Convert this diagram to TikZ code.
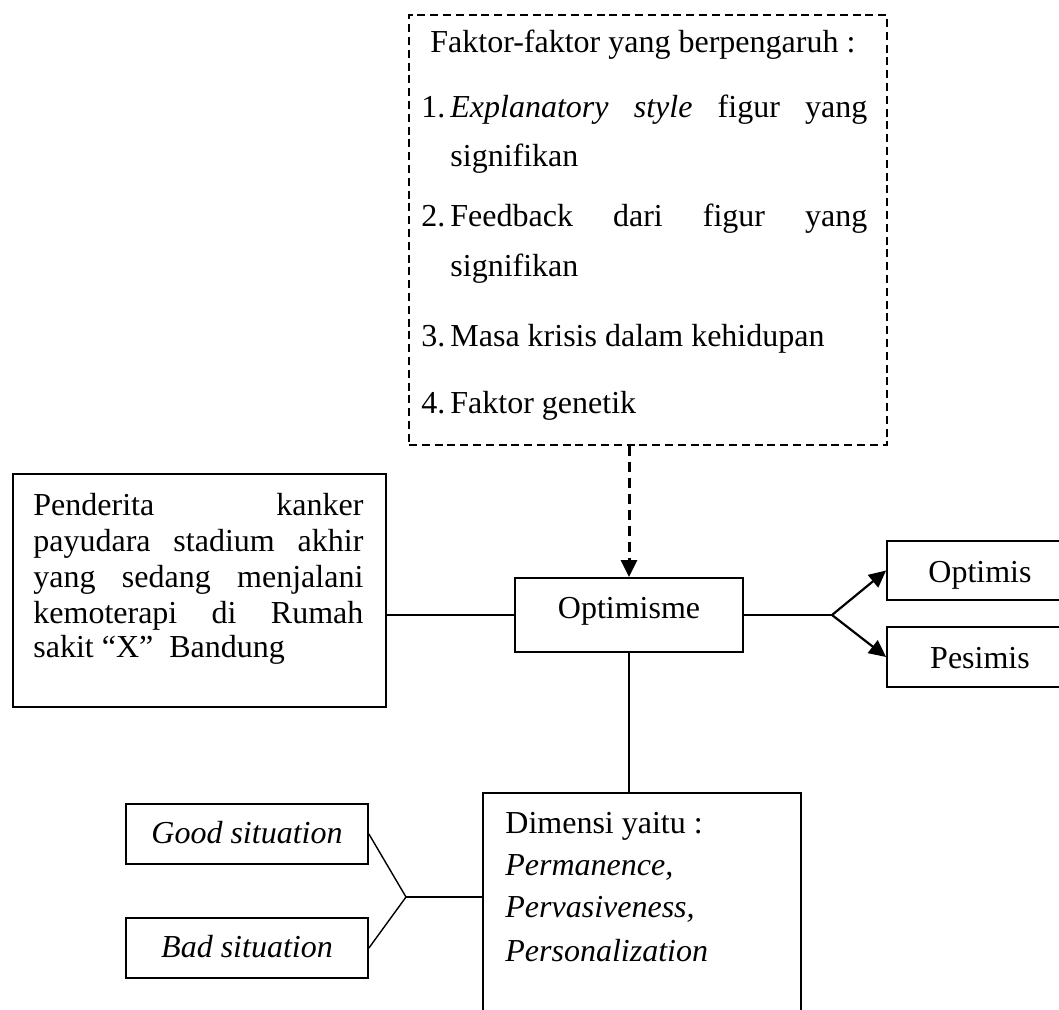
\documentclass[tikz,border=0pt]{standalone}
\usepackage{fontspec}
\setmainfont{Liberation Serif}
\usetikzlibrary{arrows.meta}
\begin{document}
\begin{tikzpicture}[x=0.5pt,y=-0.5pt,
  box/.style={draw, line width=0.9pt, inner sep=0pt},
  dbox/.style={draw, line width=0.75pt, dash pattern=on 4pt off 2.4pt, inner sep=0pt},
  txt/.style={inner sep=0pt, font=\fontsize{16}{18}\selectfont, anchor=base west},
  ctxt/.style={txt, anchor=base},
  link/.style={line width=0.7pt},
  arr/.style={line width=1.1pt, -{Triangle[length=8.5pt,width=8pt]}},
  darr/.style={line width=1.5pt, dash pattern=on 5pt off 3pt, -{Triangle[length=8.5pt,width=8pt]}}]
\useasboundingbox (0,0) rectangle (1059,1010);
\clip (0,0) rectangle (1059,1010);

% boxes
\node[dbox, minimum width=239pt, minimum height=215pt] (faktor) at (648,230) {};
\node[box, minimum width=186.5pt, minimum height=116.5pt] (pend) at (199.5,590.5) {};
\node[box, minimum width=114pt, minimum height=37pt] (optm) at (629,615) {};
\node[box, minimum width=94pt, minimum height=29.5pt] (optis) at (981,570.5) {};
\node[box, minimum width=94pt, minimum height=30pt] (pesis) at (981,657) {};
\node[box, minimum width=121pt, minimum height=30pt] (good) at (247,834) {};
\node[box, minimum width=121pt, minimum height=30pt] (bad) at (247,948) {};
\node[box, minimum width=159pt, minimum height=123.5pt] (dim) at (642,916.5) {};

% texts in dashed box
\node[txt] (t0) at (430,53) {Faktor-faktor yang berpengaruh :};
\node[txt] (n1) at (421,118) {1.};
\node[txt] (t1a) at (450,118) {\makebox[208.5pt][s]{\textit{Explanatory style} figur yang}};
\node[txt] (t1b) at (450,167) {signifikan};
\node[txt] (n2) at (421,227) {2.};
\node[txt] (t2a) at (450,227) {\makebox[208.5pt][s]{Feedback dari figur yang}};
\node[txt] (t2b) at (450,277) {signifikan};
\node[txt] (n3) at (421,347) {3.};
\node[txt] (t3) at (450,347) {Masa krisis dalam kehidupan};
\node[txt] (n4) at (421,413) {4.};
\node[txt] (t4) at (450,413) {Faktor genetik};

% texts in left box
\node[txt] (p1) at (33,515) {\makebox[165pt][s]{Penderita kanker}};
\node[txt] (p2) at (33,551) {\makebox[165pt][s]{payudara stadium akhir}};
\node[txt] (p3) at (33,587) {\makebox[165pt][s]{yang sedang menjalani}};
\node[txt] (p4) at (33,623) {\makebox[165pt][s]{kemoterapi di Rumah}};
\node[txt] (p5) at (33,657) {sakit “X”\ \ Bandung};

% other labels
\node[ctxt] (lopt) at (629,618) {Optimisme};
\node[ctxt] (lops) at (980,582) {Optimis};
\node[ctxt] (lpes) at (980,668) {Pesimis};
\node[ctxt] (lgood) at (247,843) {\textit{Good situation}};
\node[ctxt] (lbad) at (247,957) {\textit{Bad situation}};
\node[txt] (d1) at (505,833) {Dimensi yaitu :};
\node[txt] (d2) at (505,875) {\textit{Permanence,}};
\node[txt] (d3) at (505,917) {\textit{Pervasiveness,}};
\node[txt] (d4) at (505,961) {\textit{Personalization}};

% connectors
\draw[darr] (optm.north |- faktor.south) -- (optm.north);
\draw[link] (optm.west -| pend.east) -- (optm.west);
\coordinate (br) at (832,615);
\draw[link] (optm.east) -- (br);
\draw[arr] (br) -- (optis.west);
\draw[arr] (br) -- (pesis.west);
\draw[link] (optm.south) -- (optm.south |- dim.north);
\coordinate (bj) at (406,897);
\draw[link] (good.east) -- (bj) -- (bad.east);
\draw[link] (bj) -- (bj -| dim.west);
\end{tikzpicture}
\end{document}
